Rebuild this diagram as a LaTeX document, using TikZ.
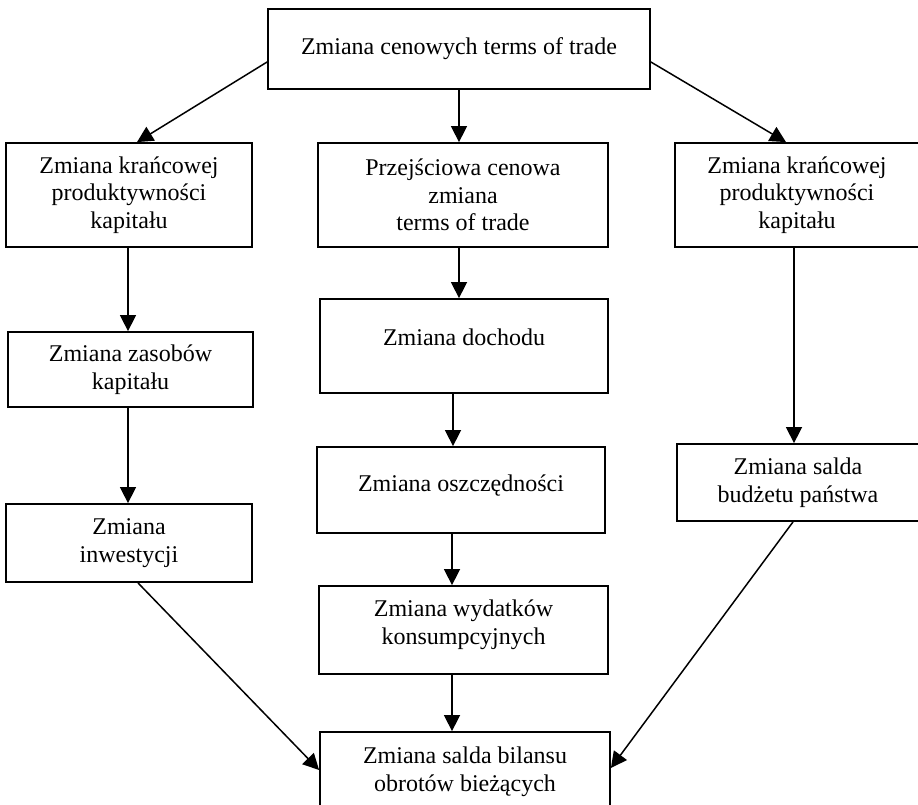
\documentclass[tikz,border=0pt]{standalone}
\usepackage{fontspec}
\setmainfont{Liberation Serif}
\usetikzlibrary{arrows.meta,calc}
\begin{document}
\begin{tikzpicture}[x=1pt,y=-1pt,
  box/.style={draw,line width=1.8pt,inner sep=0pt,align=center,
    font=\fontsize{24}{27.6}\selectfont},
  txt/.style={inner sep=0pt,align=center,font=\fontsize{24}{27.6}\selectfont},
  arr/.style={line width=1.5pt,-{Triangle[length=16pt,width=16pt]}}]
\path[use as bounding box,clip] (0,0) rectangle (918,804);
% boxes
\node[box,minimum width=382pt,minimum height=80pt] (top) at (459,49) {Zmiana cenowych terms of trade};
\node[box,minimum width=246pt,minimum height=104pt] (l1) at (129,195) {Zmiana krańcowej\\produktywności\\kapitału};
\node[box,minimum width=290pt,minimum height=104pt] (m1) at (463,195) {Przejściowa cenowa\\zmiana\\terms of trade};
\node[box,minimum width=244pt,minimum height=104pt] (r1) at (797,195) {Zmiana krańcowej\\produktywności\\kapitału};
\node[box,minimum width=245pt,minimum height=75pt] (l2) at (130.5,369.5) {Zmiana zasobów\\kapitału};
\node[box,minimum width=246pt,minimum height=78pt] (l3) at (129,543) {Zmiana\\inwestycji};
\node[box,minimum width=288pt,minimum height=94pt] (m2) at (464,346) {};
\node[txt] (m2t) at (464,337) {Zmiana dochodu};
\node[box,minimum width=288pt,minimum height=86pt] (m3) at (461,490) {};
\node[txt] (m3t) at (461,486) {Zmiana oszczędności};
\node[box,minimum width=289pt,minimum height=88pt] (m4) at (463.5,630) {};
\node[txt] (m4t) at (463.5,625) {Zmiana wydatków\\konsumpcyjnych};
\node[box,minimum width=242pt,minimum height=77pt] (r2) at (798,482.5) {Zmiana salda\\budżetu państwa};
\node[box,minimum width=290pt,minimum height=80pt] (bot) at (465,772) {Zmiana salda bilansu\\obrotów bieżących};
% connectors
\draw[arr] ([yshift=-13pt]top.west) -- ([xshift=8pt]l1.north);
\draw[arr] (top.south) -- (top.south |- m1.north);
\draw[arr] ([yshift=-13pt]top.east) -- ([xshift=-11pt]r1.north);
\draw[arr] ([xshift=-1pt]l1.south) -- ([xshift=-1pt]l1.south |- l2.north);
\draw[arr] ([xshift=-2.5pt]l2.south) -- ([xshift=-2.5pt]l2.south |- l3.north);
\draw[arr] ([xshift=9pt]l3.south) -- ([yshift=2pt]bot.west);
\draw[arr] ([xshift=-4pt]m1.south) -- ([xshift=-4pt]m1.south |- m2.north);
\draw[arr] ([xshift=-11pt]m2.south) -- ([xshift=-11pt]m2.south |- m3.north);
\draw[arr] ([xshift=-9pt]m3.south) -- ([xshift=-9pt]m3.south |- m4.north);
\draw[arr] ([xshift=-11.5pt]m4.south) -- ([xshift=-11.5pt]m4.south |- bot.north);
\draw[arr] ([xshift=-3pt]r1.south) -- ([xshift=-3pt]r1.south |- r2.north);
\draw[arr] ([xshift=-5pt]r2.south) -- ([yshift=4pt]bot.east);
\end{tikzpicture}
\end{document}
